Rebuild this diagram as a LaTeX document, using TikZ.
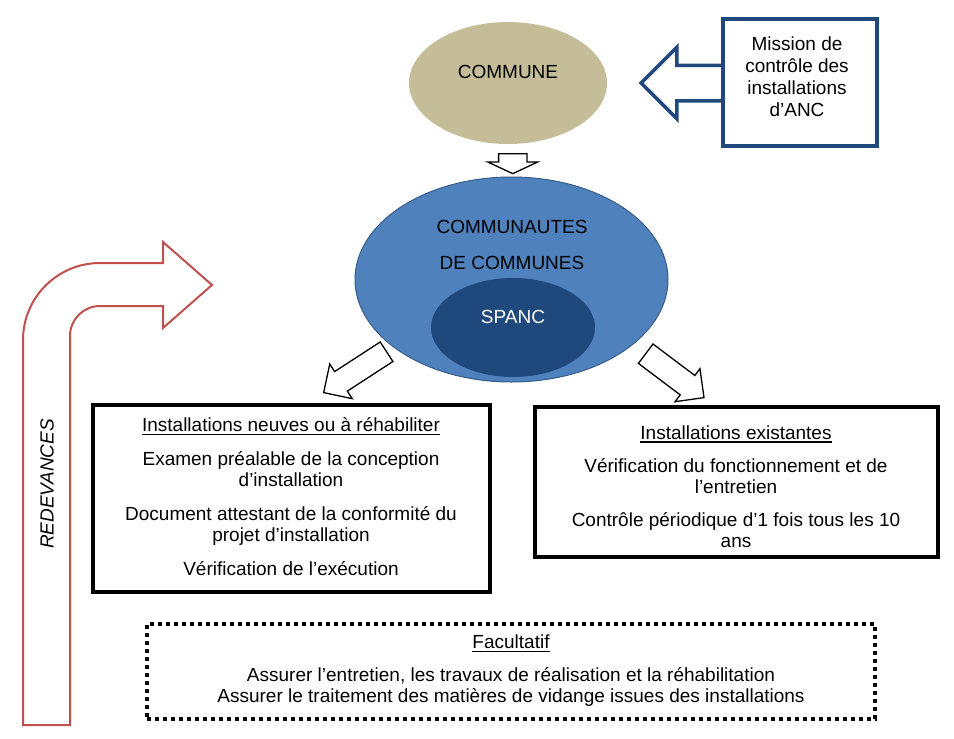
\documentclass[tikz,border=0pt]{standalone}
\usepackage{fontspec}
\setmainfont{Liberation Sans}
\usetikzlibrary{shapes.geometric,shapes.arrows,calc}
\definecolor{communetan}{HTML}{C4BD97}
\definecolor{cdcblue}{HTML}{4F81BD}
\definecolor{cdcline}{HTML}{385D8A}
\definecolor{spancblue}{HTML}{1F497D}
\definecolor{missionblue}{HTML}{1F497D}
\definecolor{redevred}{HTML}{C0504D}
\newcommand{\ulinetext}[1]{\setbox0\hbox{#1}\rlap{\rule[-3pt]{\wd0}{1.4pt}}\box0}

\begin{document}
\begin{tikzpicture}[x=1pt,y=-1pt,font=\fontsize{19}{21}\selectfont,
  bubble/.style={ellipse,inner sep=0pt},
  infobox/.style={draw=black,line width=4pt,fill=white,inner sep=0pt},
  blockarrow/.style={single arrow,draw=black,fill=white,line width=1.3pt,inner sep=0pt},
  shaft/.style={text height=#1/2,text depth=#1/2},
  boxtext/.style={align=center,inner sep=0pt}]
  \useasboundingbox (0,0) rectangle (954,739);

  \draw[redevred,line width=2pt,fill=white] (23,725) -- (23,340)
    .. controls (23,297.5) and (57.5,263) .. (100,263) -- (163,263) -- (163,242)
    -- (212,285) -- (163,328) -- (163,306) -- (100,306)
    .. controls (83.4,306) and (70,319.4) .. (70,336) -- (70,725) -- cycle;
  \node[rotate=90,font=\fontsize{19}{21}\selectfont\itshape] (redev) at (47,484) {REDEVANCES};

  \node[bubble,fill=communetan,minimum width=198,minimum height=122] (commune) at (508,83) {};
  \node (commune-txt) at (508,72) {COMMUNE};

  \node[single arrow,draw=missionblue,fill=white,line width=3.5pt,inner sep=0pt,shaft=32,
    minimum height=86,single arrow head extend=18,rotate=180] (missionarrow) at (693,83) {};
  \node[draw=missionblue,line width=3.5pt,fill=white,minimum width=154,minimum height=127] (mission) at (800,82.5) {};
  \node[boxtext,font=\fontsize{19}{22}\selectfont] (mission-txt) at (797,77) {Mission de\\contrôle des\\installations\\d’ANC};

  \node[bubble,draw=cdcline,line width=1pt,fill=cdcblue,minimum width=313,minimum height=205] (cdc) at (511.5,279.5) {};
  \node[boxtext] (cdc-txt) at (512,245) {COMMUNAUTES\\[15pt]DE COMMUNES};
  \node[bubble,fill=spancblue,minimum width=164,minimum height=99] (spanc) at (513,327.5) {};
  \node[white] (spanc-txt) at (513,317) {SPANC};

  \node[blockarrow,shaft=27,minimum height=20,single arrow head extend=11,
    single arrow tip angle=130,rotate=-90] (downarrow) at ($(commune.south)!0.5!(cdc.north)+(3,0)$) {};
  \node[blockarrow,shaft=22,minimum height=75,single arrow head extend=9,rotate=-147] (leftarrow) at (360,369) {};
  \node[blockarrow,shaft=23,minimum height=73,single arrow head extend=8.5,rotate=-37] (rightarrow) at (670,372) {};

  \node[infobox,minimum width=397,minimum height=187] (neuves) at (291.5,498.5) {};
  \node[boxtext] (neuves-txt) at (291,497) {\ulinetext{Installations neuves ou à réhabiliter}\\[13pt]
    Examen préalable de la conception\\d’installation\\[13pt]
    Document attestant de la conformité du\\projet d’installation\\[13pt]
    Vérification de l’exécution};

  \node[infobox,minimum width=403,minimum height=150] (existantes) at (736.5,482) {};
  \node[boxtext] (existantes-txt) at (736,487) {\ulinetext{Installations existantes}\\[12pt]
    Vérification du fonctionnement et de\\l’entretien\\[12pt]
    Contrôle périodique d’1 fois tous les 10\\ans};

  \node[draw=black,line width=4pt,dash pattern=on 4pt off 4pt,minimum width=728,minimum height=95] (facultatif) at (511,671.5) {};
  \node[boxtext] (facultatif-txt) at (511,671) {\ulinetext{Facultatif}\\[12pt]
    Assurer l’entretien, les travaux de réalisation et la réhabilitation\\
    Assurer le traitement des matières de vidange issues des installations};
\end{tikzpicture}
\end{document}
